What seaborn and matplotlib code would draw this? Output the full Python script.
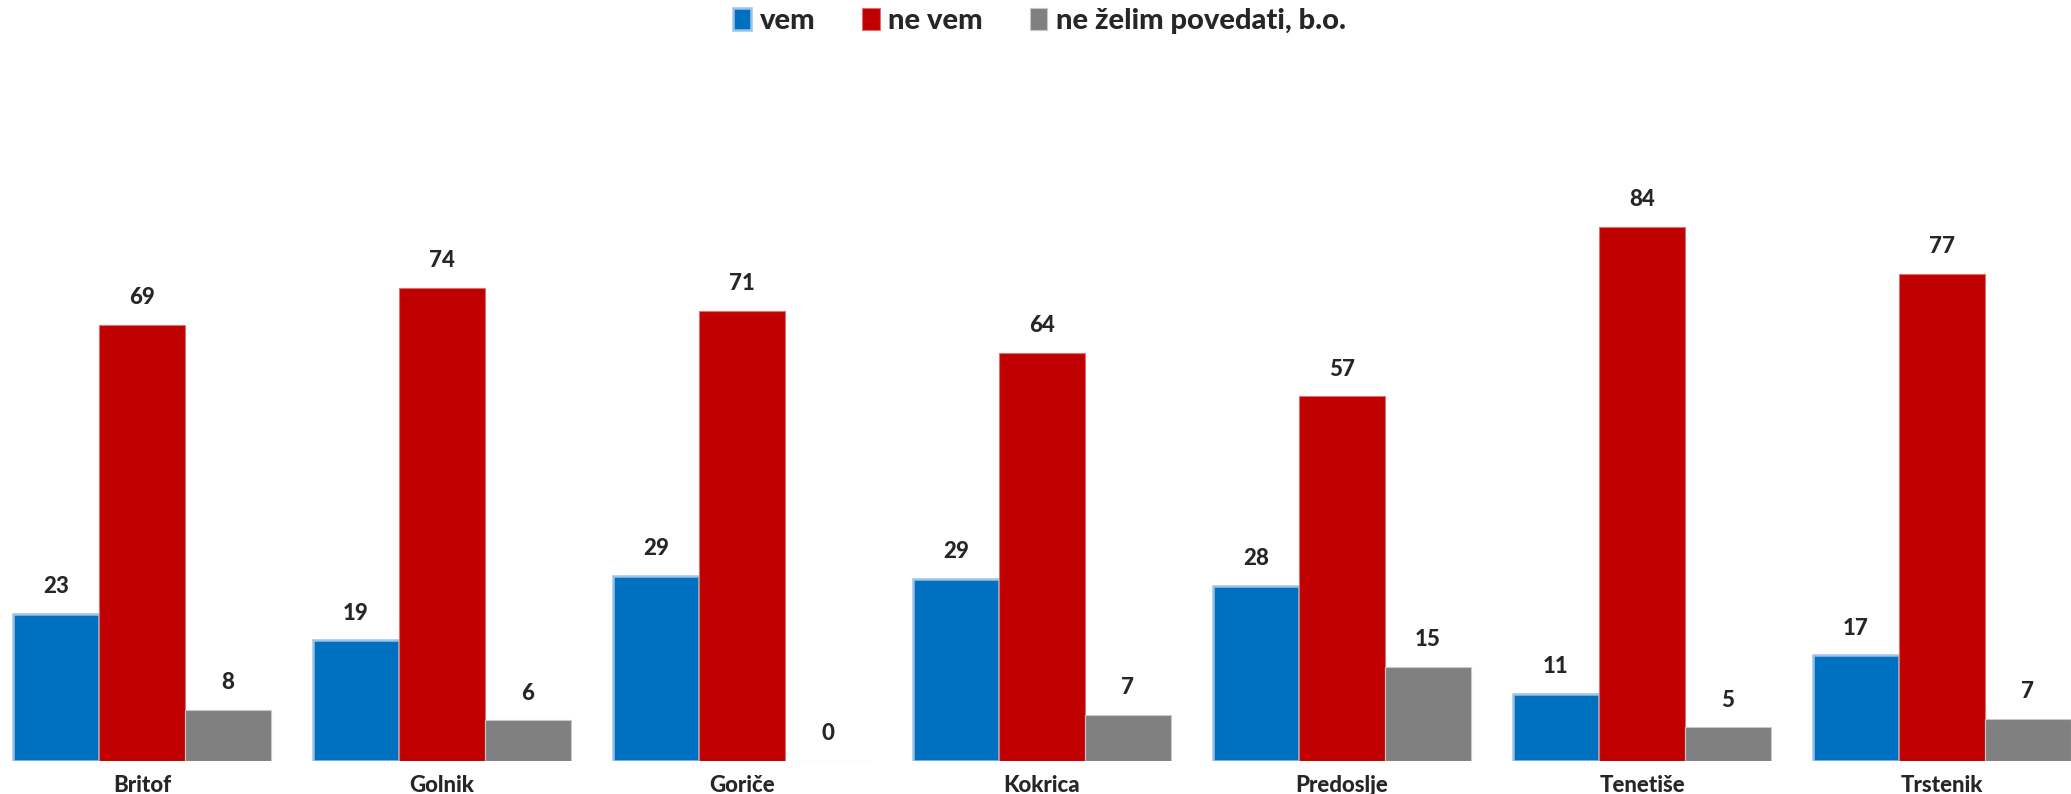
import seaborn as sns
import matplotlib.pyplot as plt
import pandas as pd

kraji = ["Britof", "Golnik", "Goriče", "Kokrica", "Predoslje", "Tenetiše", "Trstenik"]
odgovori = ["vem", "ne vem", "ne želim povedati, b.o."]

vem = [23.2, 19.0, 29.1, 28.7, 27.6, 10.6, 16.6]
ne_vem = [68.6, 74.4, 70.8, 64.2, 57.4, 84.0, 76.6]
ne_zelim = [8.1, 6.4, 0.0, 7.3, 14.8, 5.3, 6.6]

barve = ["#0070C0", "#C00000", "#808080"]
robovi = ["#9DC3E6", "#E07070", "#C8C8C8"]

rows = []
for odg, vals in zip(odgovori, [vem, ne_vem, ne_zelim]):
    for k, v in zip(kraji, vals):
        rows.append({"kraj": k, "odgovor": odg, "delez": v})
df = pd.DataFrame(rows)

sns.set_style("white")
plt.rcParams['font.family'] = ['Lato', 'DejaVu Sans']

fig = plt.figure(figsize=(20.71, 7.94), dpi=100)
ax = fig.add_axes([0, 33 / 794, 1, 661 / 794])

sns.barplot(data=df, x="kraj", y="delez", hue="odgovor", hue_order=odgovori,
            palette=barve, width=0.86, ax=ax, legend=False, saturation=1)

for i, cont in enumerate(ax.containers):
    for bar in cont:
        bar.set_edgecolor(robovi[i])
        bar.set_linewidth(1.8 if i == 0 else 0.8)
        bar.set_zorder(2 + i)
    ax.bar_label(cont, labels=[f"{b.get_height():.0f}" for b in cont],
                 padding=12, fontsize=16, fontweight='black')

ax.set(xlim=(-0.4733, 6.43), ylim=(0, 104))
ax.set(xlabel="", ylabel="")
ax.set_yticks([])
ax.tick_params(axis='x', length=0, pad=10)
ax.set_xticks(range(len(kraji)))
ax.set_xticklabels(kraji, fontsize=16, fontweight='black')
sns.despine(ax=ax, left=True, bottom=True)

handles = [plt.Rectangle((0, 0), 1, 1, facecolor=barve[i], edgecolor=robovi[i],
                         linewidth=1.8 if i == 0 else 0.8) for i in range(3)]
fig.legend(handles, odgovori, loc='center', bbox_to_anchor=(0.502, 0.9735),
           ncol=3, frameon=False, handlelength=0.6, handleheight=0.8,
           handletextpad=0.3, columnspacing=1.6,
           prop={'weight': 'black', 'size': 21})

plt.savefig("out.png", dpi=100)
